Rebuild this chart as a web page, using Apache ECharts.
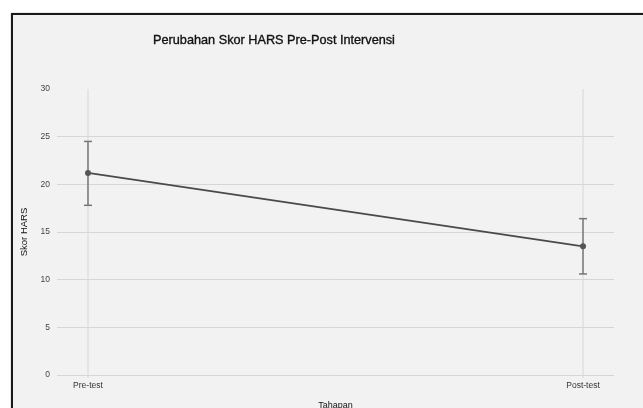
<!DOCTYPE html>
<html>
<head>
<meta charset="utf-8">
<script src="https://cdn.jsdelivr.net/npm/echarts@6/dist/echarts.min.js"></script>
<style>
html,body{margin:0;padding:0;background:#fff;width:643px;height:408px;overflow:hidden;}
#frame{position:absolute;left:11px;top:13px;width:700px;height:500px;border:2px solid #1a1a1a;background:#f2f2f2;box-shadow:0 0 1px #888;}
#main{position:absolute;left:0;top:0;width:643px;height:408px;}
</style>
</head>
<body>
<div id="frame"></div>
<div id="main"></div>
<script>
const categories = ['Pre-test', 'Post-test'];
const means = [21.2, 13.5];
const lowers = [17.8, 10.6];
const uppers = [24.5, 16.4];
const yTicks = [0, 5, 10, 15, 20, 25, 30];

const chart = echarts.init(document.getElementById('main'), null, {renderer: 'canvas'});
const FONT = 'Liberation Sans, Arial, Helvetica, sans-serif';

const option = {
  backgroundColor: 'transparent',
  animation: false,
  title: {
    text: 'Perubahan Skor HARS Pre-Post Intervensi',
    left: 274, top: 34, textAlign: 'center', padding: 0,
    textStyle: {fontFamily: FONT, fontSize: 12.7, fontWeight: 500, color: '#111', textBorderColor: '#111', textBorderWidth: 0.35}
  },
  grid: {left: 57, right: 29, top: 89, bottom: 33, containLabel: false, outerBoundsMode: 'none'},
  xAxis: {
    type: 'value', min: -0.0626, max: 1.0626,
    name: 'Tahapan', nameLocation: 'middle', nameGap: 26,
    nameTextStyle: {fontFamily: FONT, fontSize: 9, color: '#111'},
    axisLine: {show: false}, axisTick: {show: false},
    splitLine: {show: false},
    axisLabel: {
      customValues: [0, 1],
      formatter: v => categories[Math.round(v)] || '',
      fontFamily: FONT, fontSize: 8.5, color: '#333', margin: 6
    }
  },
  yAxis: {
    type: 'value', min: 0, max: 30, interval: 5,
    name: 'Skor HARS', nameLocation: 'middle', nameGap: 25, nameRotate: 90,
    nameTextStyle: {fontFamily: FONT, fontSize: 9.5, color: '#111'},
    axisLine: {show: false}, axisTick: {show: false},
    axisLabel: {fontFamily: FONT, fontSize: 8.5, color: '#444', margin: 7},
    splitLine: {show: true, showMaxLine: false, lineStyle: {color: '#d6d6d6', width: 1}}
  },
  series: [
    {
      type: 'custom', z: 1, silent: true,
      data: categories.map((c, i) => [i]),
      renderItem: function (params, api) {
        const top = api.coord([api.value(0), 30]);
        const bot = api.coord([api.value(0), 0]);
        return {type: 'line', shape: {x1: top[0], y1: top[1], x2: bot[0], y2: bot[1] + 3},
          style: {stroke: '#d6d6d6', lineWidth: 1}};
      }
    },
    {
      type: 'custom', z: 3, silent: true,
      data: categories.map((c, i) => [i, lowers[i], uppers[i]]),
      renderItem: function (params, api) {
        const x = api.value(0);
        const lo = api.coord([x, api.value(1)]);
        const hi = api.coord([x, api.value(2)]);
        const w = 4;
        const st = {stroke: '#777', lineWidth: 1.5};
        return {type: 'group', children: [
          {type: 'line', shape: {x1: lo[0], y1: lo[1], x2: hi[0], y2: hi[1]}, style: st},
          {type: 'line', shape: {x1: lo[0] - w, y1: lo[1], x2: lo[0] + w, y2: lo[1]}, style: st},
          {type: 'line', shape: {x1: hi[0] - w, y1: hi[1], x2: hi[0] + w, y2: hi[1]}, style: st}
        ]};
      }
    },
    {
      type: 'line', z: 4,
      data: means.map((m, i) => [i, m]),
      symbol: 'circle', symbolSize: 6,
      lineStyle: {color: '#4a4a4a', width: 1.8},
      itemStyle: {color: '#555'}
    }
  ]
};
chart.setOption(option);
</script>
</body>
</html>
